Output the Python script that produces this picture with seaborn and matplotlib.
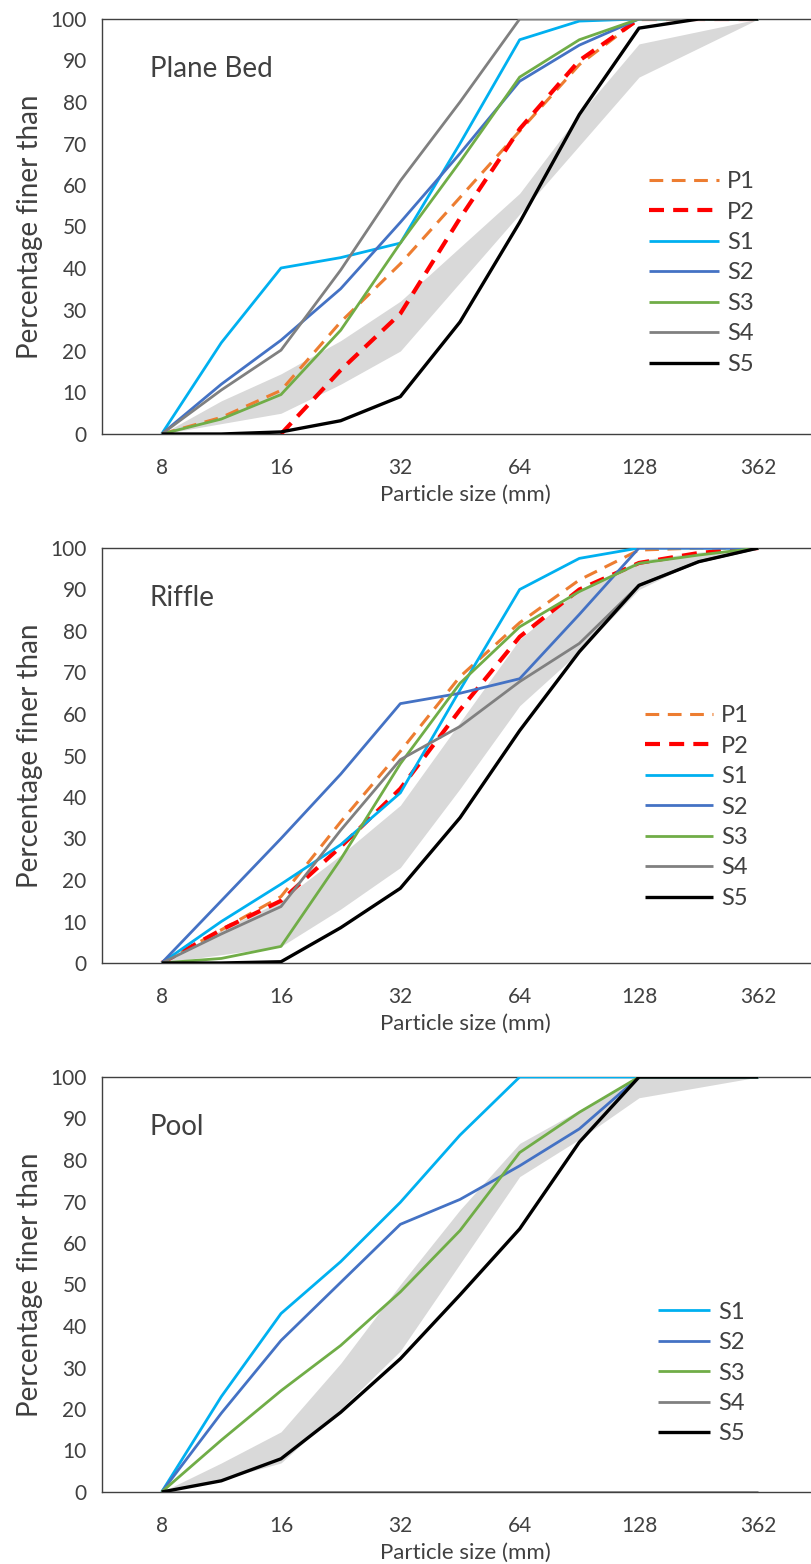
import numpy as np
import pandas as pd
import seaborn as sns
import matplotlib.pyplot as plt

# sieve classes on the category axis, only every other one is labelled
sizes = ["8", "11", "16", "22", "32", "45", "64", "90", "128", "256", "362"]
shown = ["8", "16", "32", "64", "128", "362"]

# Plane Bed (percentage finer than)
pb_p1 = [0, 4, 10.5, 27, 41, 57, 73, 89, 100, 100, 100]
pb_p2 = [np.nan, np.nan, 0, 15.4, 29, 52, 73.5, 90, 100, 100, 100]
pb_s1 = [0, 22, 40, 42.5, 46, 70, 95, 99.5, 100, 100, 100]
pb_s2 = [0, 12, 22.6, 35, 51, 67.6, 85, 93.7, 100, 100, 100]
pb_s3 = [0, 3.6, 9.5, 25, 46, 65.6, 86, 95, 100, 100, 100]
pb_s4 = [0, 10.6, 20.2, 39.5, 61, 80, 100, 100, 100, 100, 100]
pb_s5 = [0, 0, 0.5, 3.2, 9, 27, 51, 77, 97.8, 100, 100]
pb_lo = [0, 2.5, 5, 12, 20, 36.5, 53, 69.5, 86, 93, 100]
pb_hi = [0, 8, 14.5, 22.5, 32, 45, 58, 77, 94, 97, 100]

# Riffle
rf_p1 = [0, 8, 16, 34, 51, 69, 82, 92.3, 99.5, 100, 100]
rf_p2 = [0, 8, 15, 28, 42, 61, 78.6, 90, 96.4, 98.8, 100]
rf_s1 = [0, 10, 19, 28.5, 41, 65.8, 90, 97.5, 100, 100, 100]
rf_s2 = [0, 15, 30, 45.5, 62.5, 65, 68.5, 84, 100, 100, 100]
rf_s3 = [0, 1.1, 4, 25, 48, 67.4, 81, 89.5, 96.3, 98.3, 100]
rf_s4 = [0, 7, 13.6, 32, 49, 57, 67.8, 77, 91, 96.7, 100]
rf_s5 = [0, 0, 0.3, 8.5, 18, 35, 56, 75, 91, 96.7, 100]
rf_lo = [0, 2, 4, 13, 23, 42, 62, 75, 90, 97, 100]
rf_hi = [0, 8, 15, 26, 38, 58, 78, 90, 97, 99, 100]

# Pool
pl_s1 = [0, 23, 43, 55.5, 69.8, 86, 100, 100, 100, 100, 100]
pl_s2 = [0, 19, 36.5, 50.5, 64.5, 70.5, 78.6, 87.5, 100, 100, 100]
pl_s3 = [0, 12.5, 24.4, 35.3, 48.2, 63, 81.8, 91.5, 100, 100, 100]
pl_s4 = [0, 0, 0, 0, 0, 0, 0, 0, 0, 0, 0]
pl_s5 = [0, 2.7, 8, 19.2, 32.1, 47.5, 63.4, 84.3, 100, 100, 100]
pl_lo = [0, 3, 7, 20, 34, 55, 76, 85, 95, 97.5, 100]
pl_hi = [0, 7, 14.5, 31, 50, 68, 84, 92, 100, 100, 100]

STYLE = {
    "P1": dict(color="#ED7D31", lw=2.2, dashes=(4.5, 2.8)),
    "P2": dict(color="#FF0000", lw=3.0, dashes=(3.6, 2.2)),
    "S1": dict(color="#00B0F0", lw=2.0, dashes=None),
    "S2": dict(color="#4472C4", lw=2.0, dashes=None),
    "S3": dict(color="#70AD47", lw=2.0, dashes=None),
    "S4": dict(color="#808080", lw=2.0, dashes=None),
    "S5": dict(color="#000000", lw=2.4, dashes=None),
}
TXT = "#404040"
FONT = ["Lato", "DejaVu Sans"]

sns.set_style("white")
plt.rcParams["font.family"] = FONT

W, H = 812, 1564
fig = plt.figure(figsize=(W / 100, H / 100), dpi=100)

panels = [
    ("Plane Bed", 434, [("P1", pb_p1), ("P2", pb_p2), ("S1", pb_s1), ("S2", pb_s2),
                        ("S3", pb_s3), ("S4", pb_s4), ("S5", pb_s5)], pb_lo, pb_hi, 273, 649, 70),
    ("Riffle", 963, [("P1", rf_p1), ("P2", rf_p2), ("S1", rf_s1), ("S2", rf_s2),
                     ("S3", rf_s3), ("S4", rf_s4), ("S5", rf_s5)], rf_lo, rf_hi, 807, 645, 68),
    ("Pool", 1492, [("S1", pl_s1), ("S2", pl_s2), ("S3", pl_s3), ("S4", pl_s4),
                    ("S5", pl_s5)], pl_lo, pl_hi, 1373, 658, 52),
]

x = np.arange(len(sizes))
for title, y0, series, lo, hi, leg_y, leg_x, hlen in panels:
    ax = fig.add_axes([102 / W, 1 - y0 / H, 716 / W, 415 / H])
    ax.fill_between(x, lo, hi, color="#D9D9D9", lw=0, zorder=1)
    for name, vals in series:
        st = STYLE[name]
        df = pd.DataFrame({"size": x, "pct": vals}).dropna()
        sns.lineplot(data=df, x="size", y="pct", ax=ax, color=st["color"],
                     lw=st["lw"], label=name, zorder=3)
        line = ax.lines[-1]
        line.set_solid_capstyle("butt")
        if st["dashes"]:
            line.set_dashes(st["dashes"])
            line.set_dash_capstyle("butt")

    ax.set_xlim(-1, 11)
    ax.set_ylim(0, 100)
    ax.set_xticks(np.arange(-1, 11))
    ax.set_xticklabels([""] + [s if s in shown else "" for s in sizes])
    ax.set_yticks(np.arange(0, 101, 10))
    ax.tick_params(axis="x", direction="out", length=6, width=1, color="#404040",
                   pad=11, labelsize=15, labelcolor=TXT)
    ax.tick_params(axis="y", direction="out", length=6, width=1, color="#404040",
                   pad=5, labelsize=15, labelcolor=TXT)
    for side in ["left", "bottom", "top"]:
        ax.spines[side].set_color("#404040")
        ax.spines[side].set_linewidth(1)
    ax.spines["right"].set_visible(False)

    ax.set_xlabel("Particle size (mm)", fontsize=16, color=TXT)
    ax.xaxis.set_label_coords(0.507, -0.122)
    ax.set_ylabel("Percentage finer than", fontsize=20, color=TXT)
    ax.yaxis.set_label_coords(-0.083, 0.5)

    ax.text(0.067, 0.88, title, transform=ax.transAxes, fontsize=20,
            color=TXT, ha="left", va="center")

    handles, labels = ax.get_legend_handles_labels()
    ax.legend(handles, labels, loc="center left", frameon=False,
              bbox_to_anchor=(leg_x / W, 1 - leg_y / H), bbox_transform=fig.transFigure,
              borderpad=0, borderaxespad=0, fontsize=17, labelcolor=TXT,
              handlelength=hlen / 23.6, handletextpad=0.35, labelspacing=0.4)

fig.savefig("out.png", dpi=100)
